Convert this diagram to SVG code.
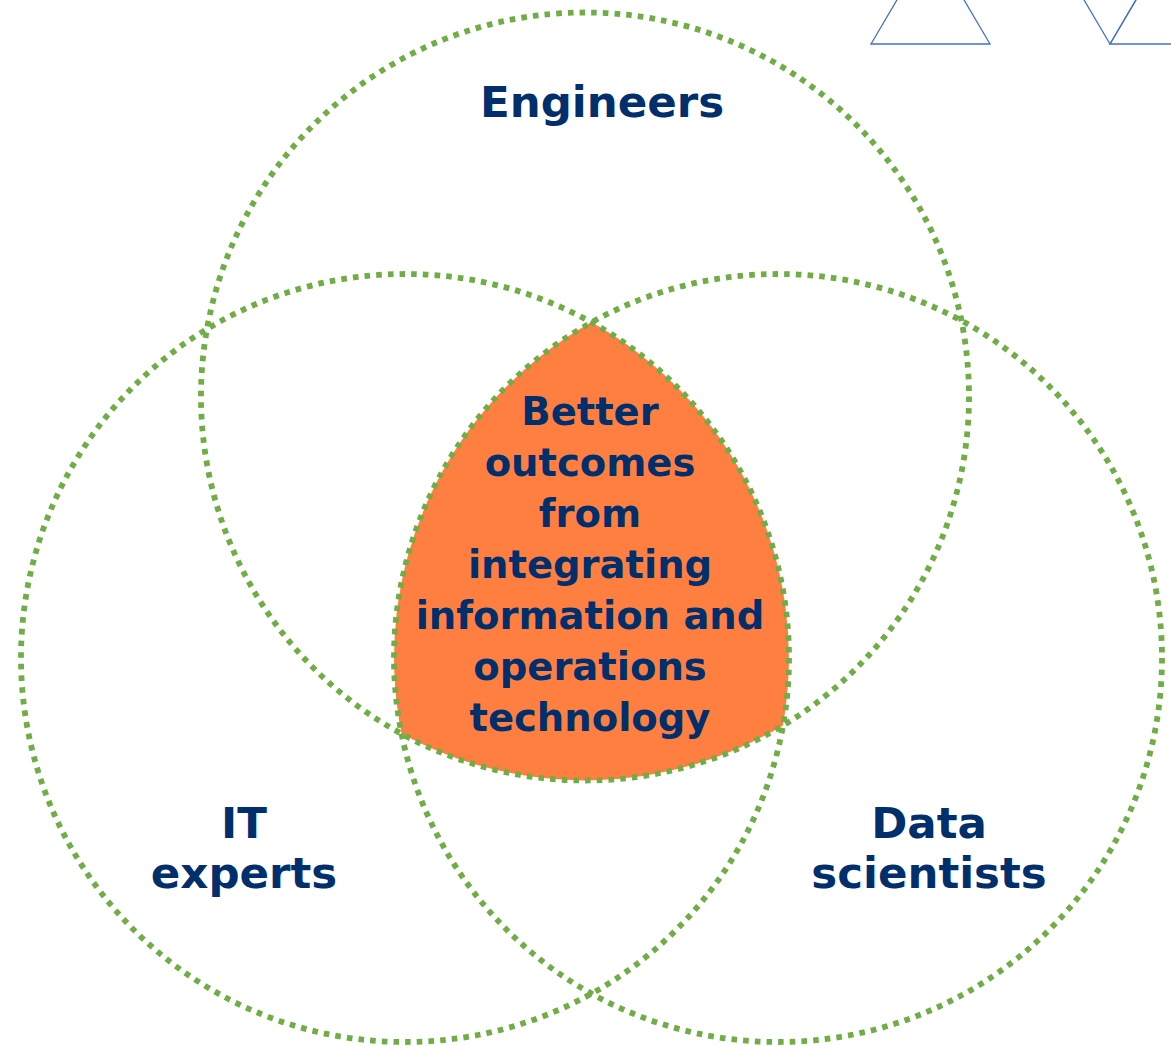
<svg xmlns="http://www.w3.org/2000/svg" width="1171" height="1046" viewBox="0 0 1171 1046">
  <style>
    .ring { fill: none; stroke: #70AD47; stroke-width: 5.8; stroke-dasharray: 5.6 6.11; }
    .lbl { font-family: "DejaVu Sans", Verdana, sans-serif; font-weight: bold; font-size: 43.5px; fill: #002F6C; text-anchor: middle; }
    .ctr { font-family: "DejaVu Sans", Verdana, sans-serif; font-weight: bold; font-size: 38.5px; fill: #002F6C; text-anchor: middle; }
    .tri { fill: none; stroke: #4472C4; stroke-width: 1.3; }
  </style>
  <rect width="1171" height="1046" fill="#FFFFFF"/>
  <g id="decor">
    <polygon class="tri" points="871,44 930.5,-57 990,44"/>
    <polygon class="tri" points="1110,44 1050.5,-57 1169.5,-57"/>
    <polygon class="tri" points="1110,44 1169.5,-57 1229,44"/>
  </g>
  <g id="node-outcome">
    <path d="M591.5,322.3 A384,384 0 0 0 401.6,733.8 A384,384 0 0 0 782.9,725.4 A384,384 0 0 0 591.5,322.3 Z" fill="#FF7F41"/>
    <text class="ctr" x="590" y="425">Better</text>
    <text class="ctr" x="590" y="476">outcomes</text>
    <text class="ctr" x="590" y="527">from</text>
    <text class="ctr" x="590" y="578">integrating</text>
    <text class="ctr" x="590" y="629">information and</text>
    <text class="ctr" x="590" y="680">operations</text>
    <text class="ctr" x="590" y="731">technology</text>
  </g>
  <g id="node-engineers">
    <circle class="ring" cx="585" cy="396.5" r="384"/>
    <text class="lbl" x="602" y="117">Engineers</text>
  </g>
  <g id="node-it-experts">
    <circle class="ring" cx="405" cy="658" r="384"/>
    <text class="lbl" x="244" y="838">IT</text>
    <text class="lbl" x="244" y="888">experts</text>
  </g>
  <g id="node-data-scientists">
    <circle class="ring" cx="778" cy="658" r="384"/>
    <text class="lbl" x="929" y="838">Data</text>
    <text class="lbl" x="929" y="888">scientists</text>
  </g>
  <g id="connectors"/>
</svg>
